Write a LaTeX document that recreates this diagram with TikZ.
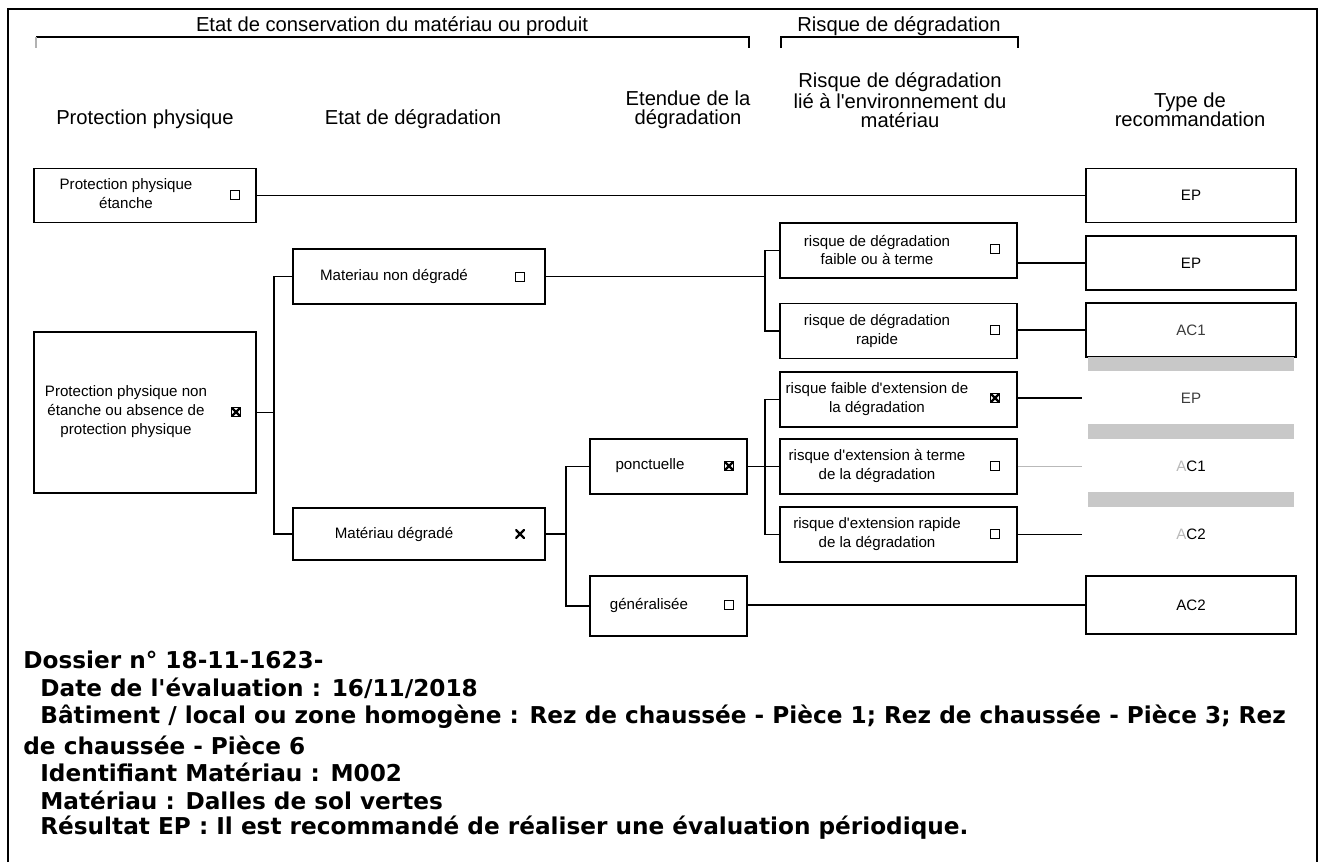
\documentclass[tikz,border=0pt]{standalone}
\usepackage{fontspec}
\setmainfont{Liberation Sans}
\newfontfamily\infofont{DejaVu Sans}
\usetikzlibrary{positioning}
\definecolor{scangray}{RGB}{200,200,200}
\definecolor{fadegray}{RGB}{185,185,185}
\definecolor{inkgray}{RGB}{60,60,60}
\tikzset{
  headtext/.style={font=\fontsize{11.5}{10.8}\selectfont, align=center, inner sep=0pt},
  crit/.style={rectangle, draw=black, line width=1.1pt, inner sep=0pt},
  critbox/.style={crit, minimum width=4.44cm, minimum height=1.08cm},
  etatbox/.style={crit, minimum width=5.04cm, minimum height=1.1cm},
  etendbox/.style={crit, minimum width=3.14cm, minimum height=1.1cm},
  riskbox/.style={crit, minimum width=4.74cm, minimum height=1.1cm},
  recbox/.style={crit, minimum width=4.2cm, minimum height=1.08cm,
    font=\fontsize{8.6}{10.8}\selectfont},
  crittext/.style={font=\fontsize{8.6}{10.8}\selectfont, align=center, inner sep=0pt},
  rectext/.style={font=\fontsize{8.6}{10.8}\selectfont, inner sep=0pt},
  chkbox/.style={rectangle, draw=black, line width=0.8pt, minimum size=0.19cm, inner sep=0pt},
  chkcross/.style={chkbox, path picture={\draw[line width=1.3pt]
    (path picture bounding box.south west) -- (path picture bounding box.north east)
    (path picture bounding box.north west) -- (path picture bounding box.south east);}},
  chkmark/.style={chkcross, draw=none},
  link/.style={line width=1pt, draw=black},
  frameline/.style={line width=1.1pt, draw=black},
  infotext/.style={font=\infofont\fontsize{13.2}{15}\bfseries, anchor=west, inner sep=0pt}
}
\begin{document}
\begin{tikzpicture}[x=0.02cm, y=-0.02cm]
  \useasboundingbox (0,0) rectangle (1325,862);

  % --- frame and top brackets ---
  \draw[frameline] (8,862) -- (8,9) -- (1317,9) -- (1317,862);
  \node[headtext] (hdConserv) at (392,26) {Etat de conservation du matériau ou produit};
  \draw[link] (36,37) -- (749,37) -- (749,48);
  \draw[link, gray!60] (36,37) -- (36,48);
  \node[headtext] (hdRisqueTop) at (899,26) {Risque de dégradation};
  \draw[link] (781,48) -- (781,37) -- (1018,37) -- (1018,48);

  % --- column headings ---
  \node[headtext] (hdProt) at (145,119) {Protection physique};
  \node[headtext] (hdEtat) at (413,119) {Etat de dégradation};
  \node[headtext] (hdEtendue) at (688,109.5) {Etendue de la\\dégradation};
  \node[headtext] (hdRisque) at (900,100) {Risque de dégradation\\lié à l\textquotesingle environnement du\\matériau};
  \node[headtext] (hdType) at (1190,109.5) {Type de\\recommandation};

  % --- protection physique ---
  \node[critbox] (boxA) at (145,195.5) {};
  \node[crittext] (txtA) at (126,194) {Protection physique\\étanche};
  \node[chkbox] (chkA) at (235,195) {};
  \node[critbox, minimum height=3.22cm] (boxB) at (145,412.5) {};
  \node[crittext] (txtB) at (126,412) {Protection physique non\\étanche ou absence de\\protection physique};
  \node[chkcross] (chkB) at (236,412) {};

  % --- etat de degradation ---
  \node[etatbox] (boxC) at (419,276.5) {};
  \node[crittext] (txtC) at (394,277) {Materiau non dégradé};
  \node[chkbox] (chkC) at (520,277) {};
  \node[etatbox, minimum height=1.04cm] (boxD) at (419,534) {};
  \node[crittext] (txtD) at (394,534) {Matériau dégradé};
  \node[chkmark] (chkD) at (520,534) {};

  % --- etendue ---
  \node[etendbox] (boxP) at (668.5,466.5) {};
  \node[crittext] (txtP) at (650,466) {ponctuelle};
  \node[chkcross] (chkP) at (729,466) {};
  \node[etendbox, minimum height=1.2cm] (boxG) at (668.5,606) {};
  \node[crittext] (txtG) at (649,605) {généralisée};
  \node[chkbox] (chkG) at (729,605) {};

  % --- risque ---
  \node[riskbox] (riskA) at (898.5,250.5) {};
  \node[crittext] (txtRA) at (877,250) {risque de dégradation\\faible ou à terme};
  \node[chkbox] (chkRA) at (995,249) {};
  \node[riskbox] (riskB) at (898.5,331) {};
  \node[crittext] (txtRB) at (877,331) {risque de dégradation\\rapide};
  \node[chkbox] (chkRB) at (995,330) {};
  \node[riskbox] (riskC) at (898.5,399.5) {};
  \node[crittext] (txtRC) at (877,399) {risque faible d\textquotesingle extension de\\la dégradation};
  \node[chkcross] (chkRC) at (995,398) {};
  \node[riskbox] (riskD) at (898.5,466.5) {};
  \node[crittext] (txtRD) at (877,466) {risque d\textquotesingle extension à terme\\de la dégradation};
  \node[chkbox] (chkRD) at (995,466) {};
  \node[riskbox] (riskE) at (898.5,534.5) {};
  \node[crittext] (txtRE) at (877,534) {risque d\textquotesingle extension rapide\\de la dégradation};
  \node[chkbox] (chkRE) at (995,534) {};

  % --- recommandation ---
  \node[recbox] (recEPa) at (1191,195.5) {EP};
  \node[recbox] (recEPb) at (1191,263) {EP};
  \node[recbox] (recACa) at (1191,330) {\textcolor{inkgray}{AC1}};
  \node[rectext, text=inkgray] (resC) at (1191,398) {EP};
  \node[rectext] (resD) at (1191,466) {\textcolor{fadegray}{A}C1};
  \node[rectext] (resE) at (1191,534) {\textcolor{fadegray}{A}C2};
  \node[recbox, minimum height=1.16cm] (recACb) at (1191,605) {AC2};
  \fill[scangray] (1088,357) rectangle (1294,371);
  \fill[scangray] (1088,424) rectangle (1294,439);
  \fill[scangray] (1088,492) rectangle (1294,507);

  % ---------------- connectors ----------------
  \coordinate (forkB) at (274,412.5);
  \coordinate (forkC) at (765,276.5);
  \coordinate (forkD) at (566,534);
  \coordinate (forkP) at (765,466.5);
  \coordinate (endC) at (1082,398);
  \coordinate (endD) at (1082,466.5);
  \coordinate (endE) at (1082,534.5);

  \draw[link] (boxA.east) -- (recEPa.west);
  \draw[link] (boxB.east) -- (forkB);
  \draw[link] (boxC.west) -| (forkB) |- (boxD.west);
  \draw[link] (boxC.east) -- (forkC);
  \draw[link] (riskA.west) -| (forkC) |- (riskB.west);
  \draw[link] (boxD.east) -- (forkD);
  \draw[link] (boxP.west) -| (forkD) |- (boxG.west);
  \draw[link] (boxP.east) -- (riskD.west);
  \draw[link] (riskC.west) -| (forkP) |- (riskE.west);
  \draw[link] (recEPb.west) -- (recEPb.west -| riskA.east);
  \draw[link] (recACa.west) -- (recACa.west -| riskB.east);
  \draw[link] (riskC.east |- endC) -- (endC);
  \draw[link, fadegray] (riskD.east) -- (endD);
  \draw[link] (riskE.east) -- (endE);
  \draw[link] (recACb.west) -- (recACb.west -| boxG.east);

  % --- dossier details ---
  \node[infotext] (info1) at (23,660) {Dossier n° 18-11-1623-};
  \node[infotext] (info2) at (40,688) {Date de l\textquotesingle évaluation : 16/11/2018};
  \node[infotext] (info3) at (40,717) {Bâtiment / local ou zone homogène : Rez de chaussée - Pièce 1; Rez de chaussée - Pièce 3; Rez};
  \node[infotext] (info4) at (23,745) {de chaussée - Pièce 6};
  \node[infotext] (info5) at (40,772) {Identifiant Matériau : M002};
  \node[infotext] (info6) at (40,800) {Matériau : Dalles de sol vertes};
  \node[infotext] (info7) at (40,828) {Résultat EP : Il est recommandé de réaliser une évaluation périodique.};
\end{tikzpicture}
\end{document}
